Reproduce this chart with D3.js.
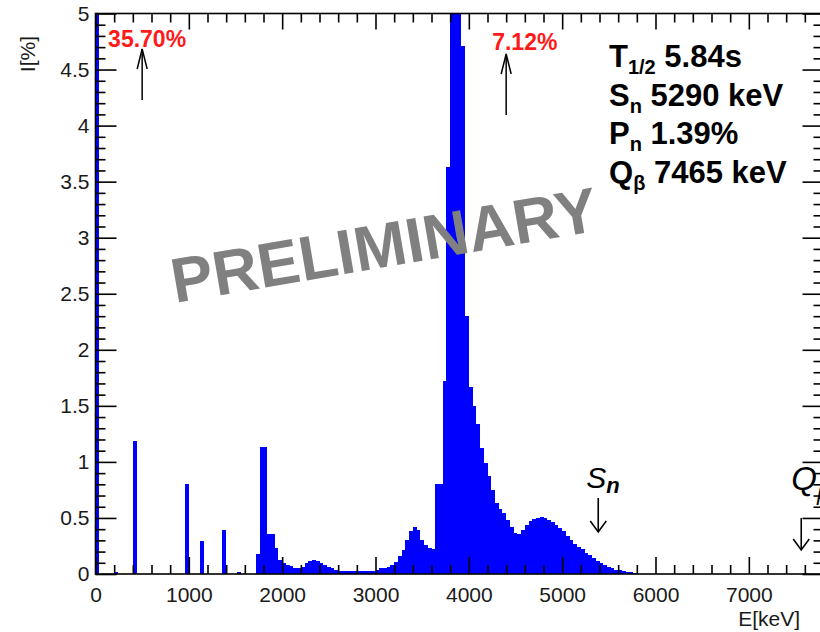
<!DOCTYPE html>
<html><head><meta charset="utf-8">
<script src="https://cdn.jsdelivr.net/npm/d3@7"></script>
<style>
html,body{margin:0;padding:0;background:#fff;}
svg{display:block;}
text{font-family:"Liberation Sans",Arial,Helvetica,sans-serif;}
</style></head><body>
<svg id="chart" width="820" height="632"></svg>
<script>
// Beta-feeding intensity per 40 keV bin; each entry is the lower bin edge in keV.
const binWidth = 40;
const levelEnergy  = [0, 200, 400, 960, 1120, 1360, 1520];
const levelFeeding = [35.70, 0.02, 1.19, 0.80, 0.29, 0.39, 0.02];

// Continuous part, consecutive bins starting at continuumStart
const continuumStart = 1720;
const continuumFeeding = [
  0.18, 1.13, 1.13, 0.36, 0.36, 0.23, 0.125, 0.10, 0.08, 0.075,   // 1720-2080
  0.05, 0.05, 0.065, 0.095, 0.12, 0.125, 0.12, 0.10, 0.08, 0.06,  // 2120-2480
  0.05, 0.04, 0.03, 0.03, 0.03, 0.03, 0.03, 0.03, 0.03, 0.03,     // 2520-2880
  0.03, 0.03, 0.035, 0.05, 0.05, 0.066, 0.08, 0.11, 0.16, 0.21,   // 2920-3280
  0.30, 0.38, 0.42, 0.39, 0.30, 0.26, 0.23, 0.22, 0.80, 0.80,     // 3320-3680
  1.72, 3.63, 5.90, 7.12, 6.10, 4.71, 2.30, 1.67, 1.50, 1.34,     // 3720-4080
  1.12, 0.99, 0.87, 0.75, 0.63, 0.58, 0.54, 0.48, 0.42, 0.37,     // 4120-4480
  0.36, 0.39, 0.44, 0.47, 0.49, 0.50, 0.505, 0.50, 0.48, 0.46,    // 4520-4880
  0.44, 0.41, 0.38, 0.34, 0.30, 0.27, 0.24, 0.22, 0.19, 0.17,     // 4920-5280
  0.14, 0.12, 0.10, 0.08, 0.065, 0.05, 0.04, 0.035, 0.03, 0.02,   // 5320-5680
  0.015, 0.01                                                     // 5720-5760
];

const xMajorTicks = [0, 1000, 2000, 3000, 4000, 5000, 6000, 7000];
const yMajorTicks = [0, 0.5, 1, 1.5, 2, 2.5, 3, 3.5, 4, 4.5, 5];

// Off-scale values written above the frame
const offScale = [
  {label: "35.70%", arrowAt: 500,  textAt: 135},
  {label: "7.12%",  arrowAt: 4400, textAt: 4250}
];
// Decay properties
const infoLines = [
  {main: "T", sub: "1/2", rest: " 5.84s"},
  {main: "S", sub: "n",   rest: " 5290 keV"},
  {main: "P", sub: "n",   rest: " 1.39%"},
  {main: "Q", sub: "\u03b2", rest: " 7465 keV"}
];
const Sn = 5290, Qbeta = 7465;

const svg = d3.select("#chart");
svg.append("rect").attr("width", 820).attr("height", 632).attr("fill", "#fff");

const xMax = 7800, yMax = 5;
const x = d3.scaleLinear().domain([0, xMax]).range([95.5, 823.5]);
const y = d3.scaleLinear().domain([0, yMax]).range([574, 13.5]);
const clip = v => Math.min(v, yMax);

const bins = levelEnergy.map((e, i) => ({e, v: levelFeeding[i]}))
  .concat(continuumFeeding.map((v, i) => ({e: continuumStart + i * binWidth, v})));

// Histogram bins
svg.append("g").attr("shape-rendering", "crispEdges")
  .selectAll("rect").data(bins).join("rect")
  .attr("x", d => x(d.e))
  .attr("width", d => x(d.e + binWidth) - x(d.e))
  .attr("y", d => y(clip(d.v)))
  .attr("height", d => y(0) - y(clip(d.v)))
  .attr("fill", "#0000ff");

// Frame and ticks
const axisColor = "#000";
const xMinor = d3.range(0, xMax + 1, 200).filter(v => v % 1000 !== 0);
const yMinor = d3.range(0, 51).map(v => v / 10).filter(v => Math.round(v * 10) % 5 !== 0);

function styleAxis(g) {
  g.select(".domain").remove();
  g.selectAll(".tick line").attr("stroke", axisColor).attr("stroke-width", 1.6);
  g.selectAll(".tick text").attr("fill", "#1a1a1a").attr("font-size", 21)
    .attr("font-family", "'Liberation Sans', Arial, sans-serif");
}

svg.append("g").attr("transform", `translate(0,${y(0)})`)
  .call(d3.axisBottom(x).tickValues(xMinor).tickSize(-9).tickFormat(""))
  .call(styleAxis);
svg.append("g").attr("transform", `translate(0,${y(0)})`)
  .call(d3.axisBottom(x).tickValues(xMajorTicks).tickSize(-17).tickPadding(13).tickFormat(d3.format("d")))
  .call(styleAxis);
svg.append("g").attr("transform", `translate(0,${y(yMax)})`)
  .call(d3.axisTop(x).tickValues(xMinor).tickSize(-9).tickFormat(""))
  .call(styleAxis);
svg.append("g").attr("transform", `translate(0,${y(yMax)})`)
  .call(d3.axisTop(x).tickValues(xMajorTicks).tickSize(-16).tickFormat(""))
  .call(styleAxis);

svg.append("g").attr("transform", `translate(${x(0)},0)`)
  .call(d3.axisLeft(y).tickValues(yMinor).tickSize(-10).tickFormat(""))
  .call(styleAxis);
svg.append("g").attr("transform", `translate(${x(0)},0)`)
  .call(d3.axisLeft(y).tickValues(yMajorTicks).tickSize(-21).tickPadding(6).tickFormat(d => String(d)))
  .call(styleAxis);
svg.append("g").attr("transform", `translate(${x(xMax)},0)`)
  .call(d3.axisRight(y).tickValues(yMinor).tickSize(-10).tickFormat(""))
  .call(styleAxis);
svg.append("g").attr("transform", `translate(${x(xMax)},0)`)
  .call(d3.axisRight(y).tickValues(yMajorTicks).tickSize(-21).tickFormat(""))
  .call(styleAxis);

svg.append("rect")
  .attr("x", x(0)).attr("y", y(yMax))
  .attr("width", x(xMax) - x(0)).attr("height", y(0) - y(yMax))
  .attr("fill", "none").attr("stroke", axisColor).attr("stroke-width", 1.6);

// Axis titles
svg.append("text").attr("x", 800).attr("y", 626).attr("text-anchor", "end")
  .attr("font-size", 21).attr("fill", "#1a1a1a").text("E[keV]");
svg.append("text").attr("transform", "translate(35,36) rotate(-90)").attr("text-anchor", "end")
  .attr("font-size", 21).attr("fill", "#1a1a1a").text("I[%]");

// Off-scale markers
function upArrow(g, cx, top, bottom) {
  g.append("line").attr("x1", cx).attr("x2", cx).attr("y1", top).attr("y2", bottom)
    .attr("stroke", "#000").attr("stroke-width", 1.5);
  g.append("path").attr("d", `M${cx - 5},${top + 20}L${cx},${top}L${cx + 5},${top + 20}`)
    .attr("fill", "none").attr("stroke", "#000").attr("stroke-width", 1.5);
}
const marks = svg.append("g");
offScale.forEach((m, i) => {
  marks.append("text").attr("x", x(m.textAt)).attr("y", i === 0 ? 47 : 49.5)
    .attr("font-size", 23).attr("font-weight", "bold").attr("fill", "#ff1a1a").text(m.label);
  upArrow(marks, x(m.arrowAt), i === 0 ? 49 : 54, i === 0 ? 100 : 115);
});

// Decay property block
const info = svg.append("g");
infoLines.forEach((l, i) => {
  const t = info.append("text").attr("x", 609).attr("y", 67 + i * 38.5)
    .attr("font-size", 31).attr("font-weight", "bold").attr("fill", "#000");
  t.append("tspan").text(l.main);
  t.append("tspan").attr("font-size", 20).attr("dy", 7).text(l.sub);
  t.append("tspan").attr("dy", -7).text(l.rest);
});

// Threshold markers
function downArrow(g, cx, top, bottom) {
  g.append("line").attr("x1", cx).attr("x2", cx).attr("y1", top).attr("y2", bottom)
    .attr("stroke", "#000").attr("stroke-width", 1.6);
  g.append("path").attr("d", `M${cx - 8},${bottom - 11}L${cx},${bottom}L${cx + 8},${bottom - 11}`)
    .attr("fill", "none").attr("stroke", "#000").attr("stroke-width", 1.6);
}
const serif = "'Liberation Serif','Times New Roman',serif";
const thr = svg.append("g");
const snT = thr.append("text").attr("x", x(Sn) - 3).attr("y", 488).attr("fill", "#000")
  .attr("font-family", serif);
snT.append("tspan").attr("font-size", 30).attr("font-style", "italic").text("S");
snT.append("tspan").attr("font-size", 22).attr("font-style", "italic").attr("font-weight", "bold").attr("dy", 5).text("n");
downArrow(thr, x(Sn) + 9, 498, 532);

const qT = thr.append("text").attr("x", x(Qbeta) - 1).attr("y", 490).attr("fill", "#000")
  .attr("font-family", serif);
qT.append("tspan").attr("font-size", 33).attr("font-style", "italic").text("Q");
qT.append("tspan").attr("font-size", 22).attr("font-style", "italic").attr("dy", 10).text("\u03b2");
downArrow(thr, x(Qbeta) + 9, 518, 550);

// Watermark
svg.append("text")
  .attr("transform", "translate(175,303) rotate(-9.7)")
  .attr("font-size", 63).attr("font-weight", "bold").attr("fill", "#808080")
  .text("PRELIMINARY");
</script>
</body></html>
